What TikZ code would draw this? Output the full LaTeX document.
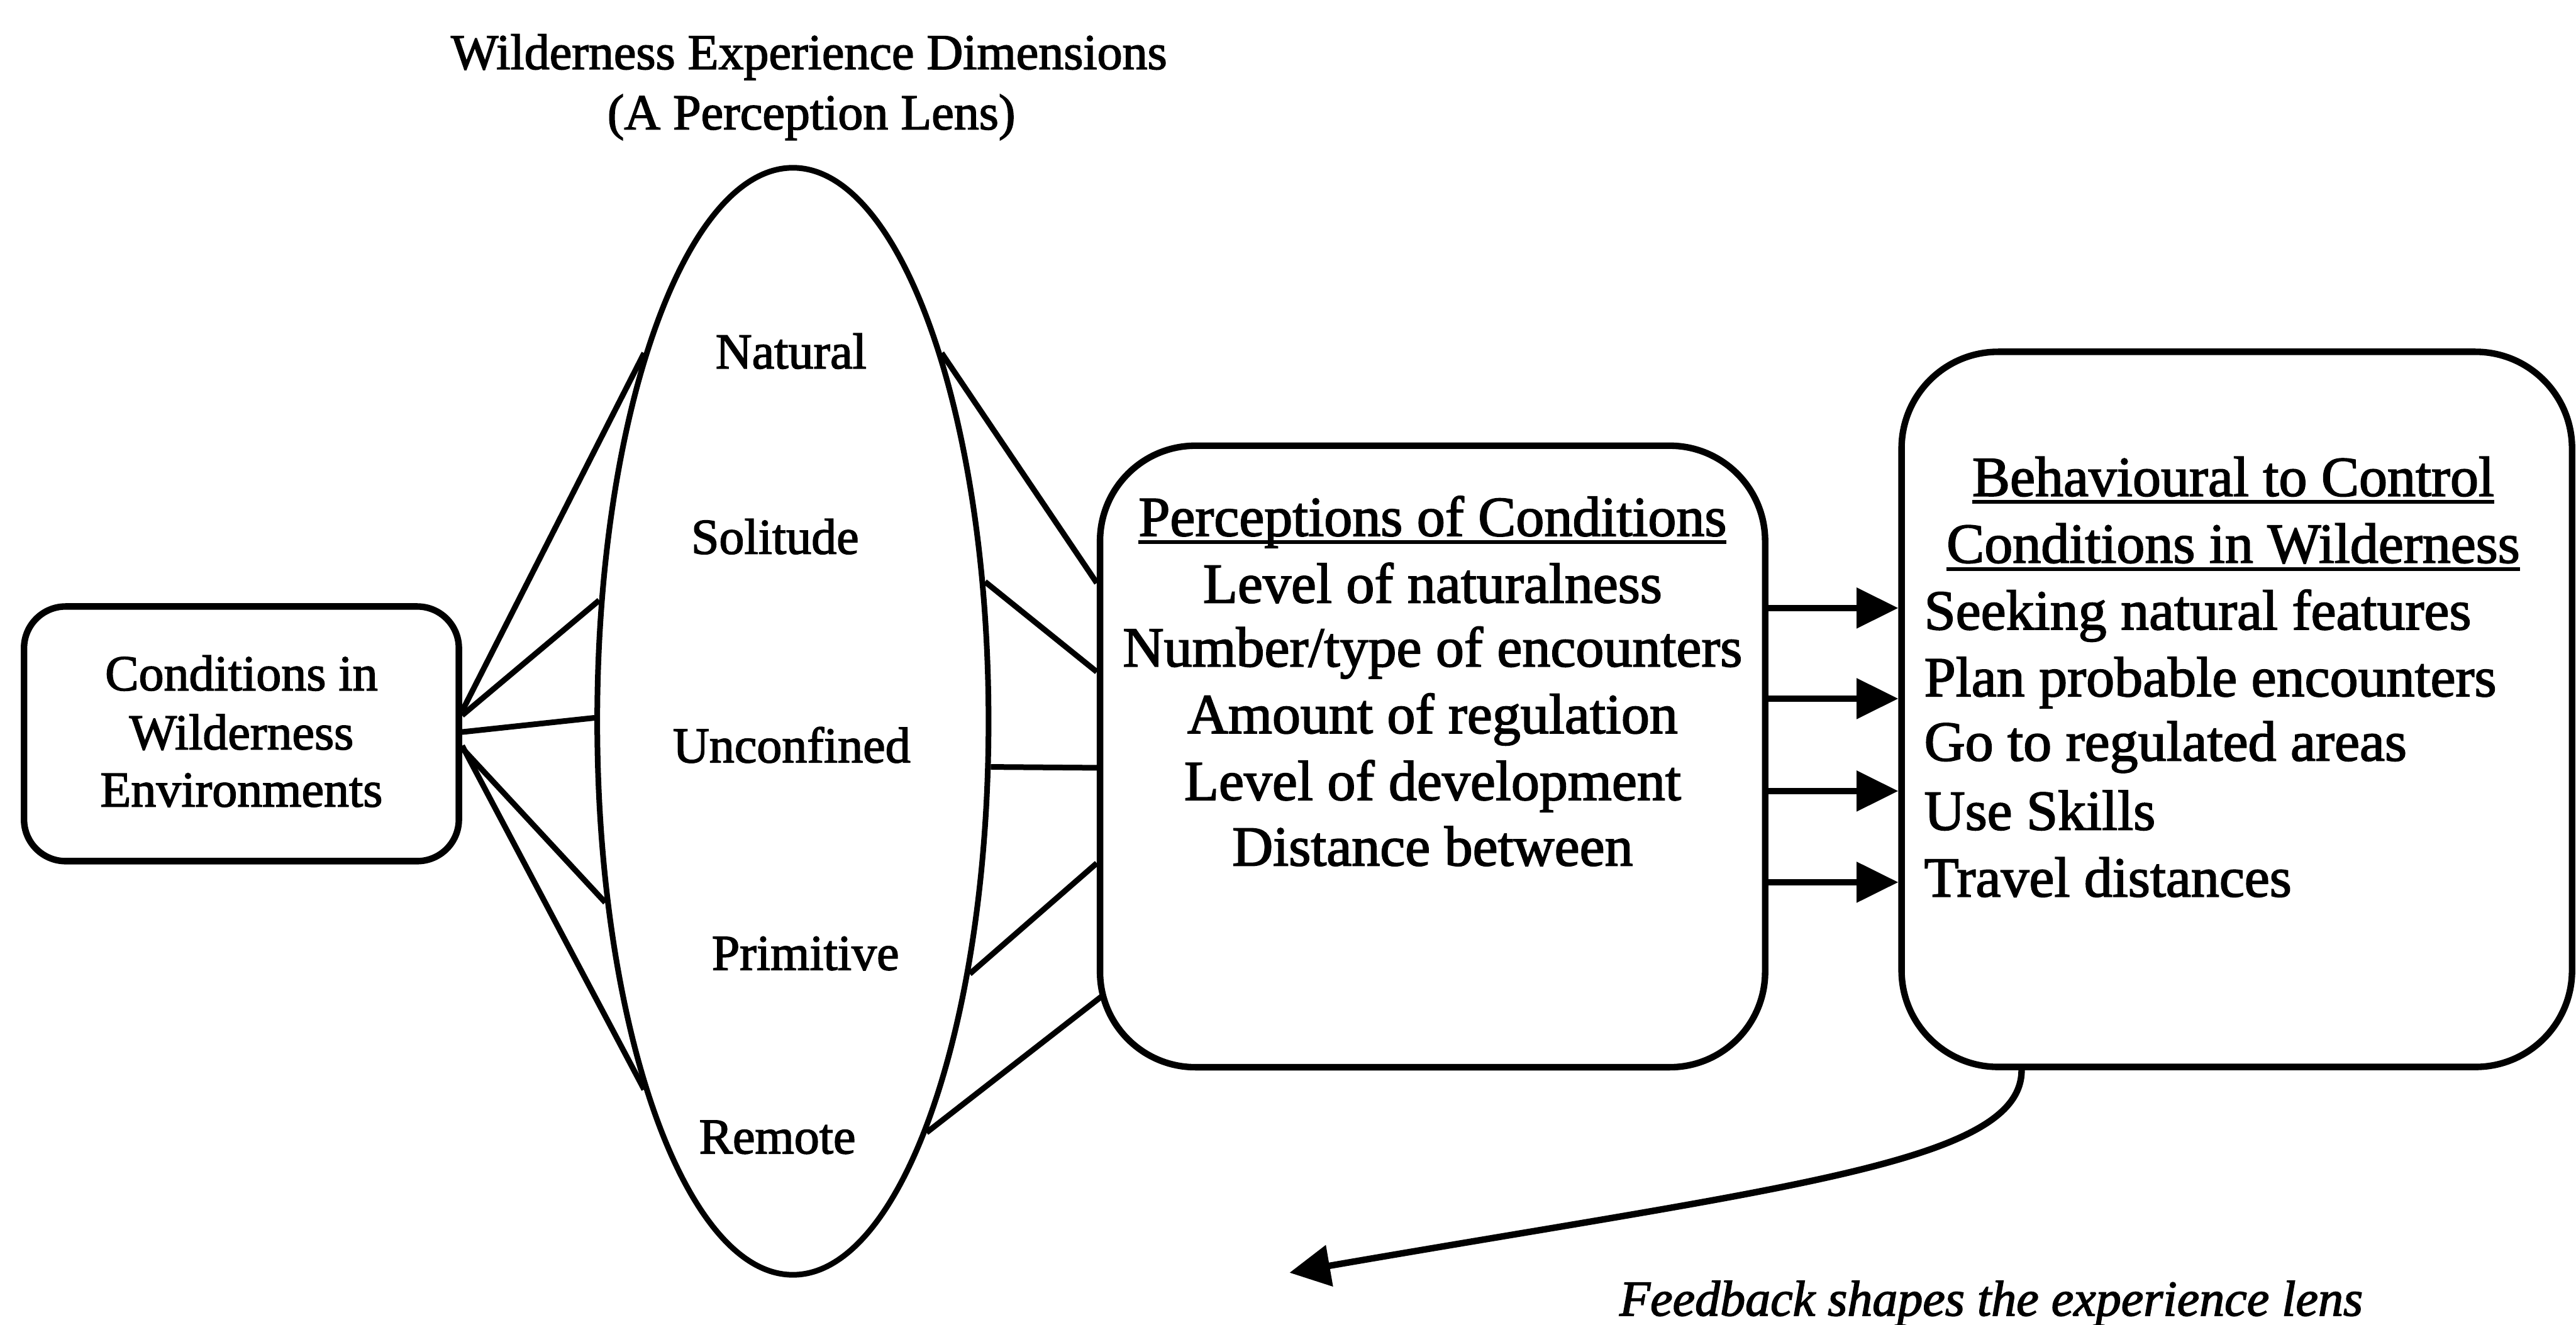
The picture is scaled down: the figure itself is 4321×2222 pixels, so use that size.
\documentclass[tikz,border=0pt]{standalone}
\usepackage{fontspec}
\setmainfont{Liberation Serif}[UprightFeatures={FakeBold=2},ItalicFeatures={FakeBold=2}]
\usetikzlibrary{shapes.geometric,arrows.meta,calc}

% heavy underline for box headings
\newcommand\headul[1]{\setbox0\hbox{#1}\rlap{\rule[-3.8pt]{\wd0}{1.8pt}}\box0}

\begin{document}
\begin{tikzpicture}[x=0.01cm,y=-0.01cm,
  box/.style={draw, line width=3.1pt, inner sep=0pt},
  link/.style={line width=2.7pt},
  push/.style={line width=3.1pt, -{Triangle[length=0.7cm,width=0.66cm]}},
  back/.style={line width=3.1pt, -{Triangle[length=0.68cm,width=0.68cm]}},
  lbl/.style={anchor=base, inner sep=0pt, font=\fontsize{24pt}{29pt}\selectfont},
  txt/.style={anchor=base, inner sep=0pt, font=\fontsize{27pt}{32pt}\selectfont},
  item/.style={txt, anchor=base west},
]
\useasboundingbox[fill=white] (0,0) rectangle (4321,2222);

% ---- shapes
\node[box, rounded corners=0.7cm, minimum width=7.29cm, minimum height=4.27cm] (cond) at (405,1231) {};
\node[draw, ellipse, line width=2.7pt, inner sep=0pt, minimum width=6.56cm, minimum height=18.56cm] (lens) at (1330,1210) {};
\node[box, rounded corners=1.6cm, minimum width=11.15cm, minimum height=10.42cm] (perc) at (2403,1269) {};
\node[box, rounded corners=1.62cm, minimum width=11.24cm, minimum height=11.99cm] (beh) at (3752,1190) {};

% ---- heading above the lens
\node[lbl] (ttl1) at (1357,116) {Wilderness Experience Dimensions};
\node[lbl] (ttl2) at (1361,217) {(A Perception Lens)};

% ---- left box text
\node[lbl] (c1) at (405,1158) {Conditions in};
\node[lbl] (c2) at (405,1257) {Wilderness};
\node[lbl] (c3) at (405,1353) {Environments};

% ---- lens dimensions
\node[lbl] (dNat) at (1327,618) {Natural};
\node[lbl] (dSol) at (1300,929) {Solitude};
\node[lbl] (dUnc) at (1328,1279) {Unconfined};
\node[lbl] (dPri) at (1351,1627) {Primitive};
\node[lbl] (dRem) at (1304,1935) {Remote};

% ---- perceptions box text
\node[txt] (p0) at (2403,899) {\headul{Perceptions of Conditions}};
\node[txt] (p1) at (2403,1011) {Level of naturalness};
\node[txt] (p2) at (2403,1118) {Number/type of encounters};
\node[txt] (p3) at (2403,1230) {Amount of regulation};
\node[txt] (p4) at (2403,1342) {Level of development};
\node[txt] (p5) at (2403,1452) {Distance between};

% ---- behaviour box text
\node[txt] (b0) at (3746,832) {\headul{Behavioural to Control}};
\node[txt] (b1) at (3746,944) {\headul{Conditions in Wilderness}};
\node[item] (b2) at (3227,1056) {Seeking natural features};
\node[item] (b3) at (3227,1168) {Plan probable encounters};
\node[item] (b4) at (3227,1276) {Go to regulated areas};
\node[item] (b5) at (3227,1392) {Use Skills};
\node[item] (b6) at (3227,1504) {Travel distances};

% ---- feedback caption
\node[lbl, font=\fontsize{24pt}{29pt}\selectfont\itshape] (fbt) at (3340,2207) {Feedback shapes the experience lens};

% ---- conditions -> lens
\draw[link] ($(cond.east)+(0,-38)$) -- (lens.112.3);
\draw[link] ($(cond.east)+(0,-31)$) -- (lens.148.9);
\draw[link] ($(cond.east)+(0,-3)$) -- (lens.179.3);
\draw[link] ($(cond.east)+(0,24)$) -- (lens.224.9);
\draw[link] ($(cond.east)+(0,20)$) -- (lens.248.3);

% ---- lens -> perceptions
\draw[link] (lens.68.9) -- ($(perc.west)+(0,-291)$);
\draw[link] (lens.36.7) -- ($(perc.west)+(0,-142)$);
\draw[link] (lens.-13.4) -- ($(perc.west)+(0,19)$);
\draw[link] (lens.-55.5) -- ($(perc.west)+(0,179)$);
\draw[link] (lens.-72.4) -- ($(perc.west)+(10,401)$);

% ---- perceptions -> behaviour
\coordinate (a1) at ($(perc.east)+(0,-249)$);
\coordinate (a2) at ($(perc.east)+(0,-97)$);
\coordinate (a3) at ($(perc.east)+(0,58)$);
\coordinate (a4) at ($(perc.east)+(0,211)$);
\foreach \a in {a1,a2,a3,a4}{
  \draw[push] (\a) -- (\a -| beh.west);
}

% ---- feedback loop back towards the lens
\coordinate (fbs) at ($(beh.south)+(-361,0)$);
\coordinate (fbe) at (2163,2135);
\draw[back] (fbs) .. controls (3391,1950) and (3000,1990) .. (fbe);

\end{tikzpicture}
\end{document}
